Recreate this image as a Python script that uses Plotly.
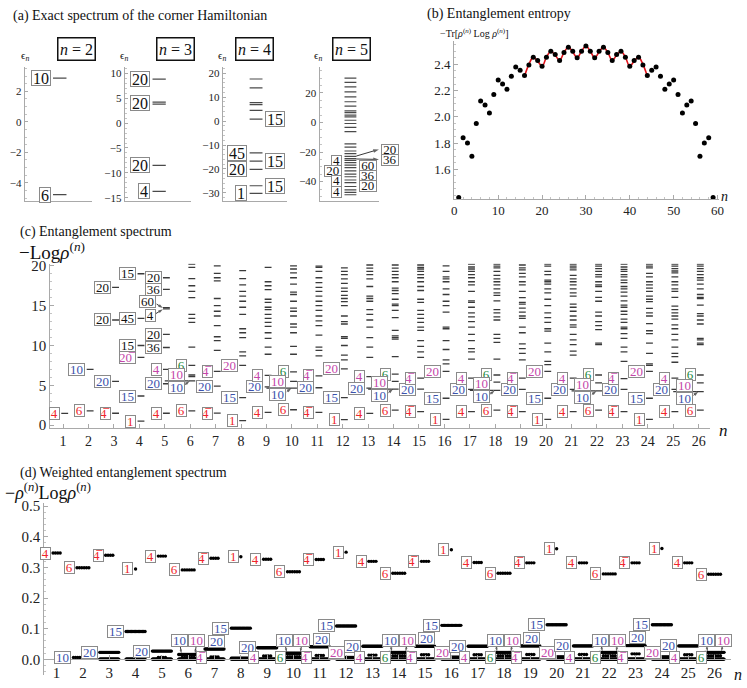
import plotly.graph_objects as go

W, H = 747, 688
SERIF = 'Liberation Serif, Tinos, Times New Roman, DejaVu Serif, serif'
OV = '\u0305'   # combining overline -> conjugate irrep
KIND_COLOR = {'r': '#f0262c', 'b': '#3c52ac', 'm': '#c447aa', 'g': '#22893d', 'k': '#111111'}

# ---------------- (a) exact spectrum of the corner Hamiltonian ----------------
a2_levels = [2.86, -4.77]
a3_levels = [8.8, 4.2, 3.8, -8.5, -13.7]
a4_levels = [17.6, 13.9, 7.7, 6.9, 4.5, 0.8, -13.3, -16.7, -20.2, -27.0, -30.2]
a5_levels = [30.0, 27.1, 24.0, 20.7, 17.3, 14.0, 11.1, 7.8, 6.7, 4.9, 3.8, 1.5, -0.7, -3.3,
             -6.2, -14.5, -16.7, -19.3, -21.1, -22.9, -24.5, -25.6, -27.1, -28.9, -30.5,
             -32.7, -34.9, -36.7, -38.9, -40.7, -43.3, -45.6, -47.3, -48.9]
a_tag_panel = [2, 2, 3, 3, 3, 3, 4, 4, 4, 4, 4, 4, 5, 5, 5, 5, 5, 5, 5]
a_tag_level = [2.86, -4.77, 8.8, 4.0, -8.5, -13.7, 0.8, -13.3, -16.7, -20.2, -27.0, -30.2,
               -25.8, -32.7, -39.3, -46.7, -29.3, -36.0, -43.3]
a_tag_text = ['10', '6', '20', '20', '20', '4', '15', '45', '15', '20', '15', '1',
              '4', '20', '4', '4', '60', '36', '20']
a_tag_side = ['L', 'L', 'L', 'L', 'L', 'L', 'R', 'L', 'R', 'L', 'R', 'L',
              'L', 'L', 'L', 'L', 'R', 'R', 'R']

# ---------------- (b) entanglement entropy ----------------
b_n = list(range(1, 60))
b_entropy = [1.385, 1.84, 1.80, 1.70, 1.95, 2.12, 2.09, 2.03, 2.17, 2.28, 2.25, 2.21, 2.31,
             2.38, 2.355, 2.315, 2.395, 2.455, 2.43, 2.385, 2.455, 2.50, 2.475, 2.43, 2.49,
             2.53, 2.50, 2.45, 2.50, 2.54, 2.50, 2.45, 2.50, 2.53, 2.49, 2.43, 2.475, 2.50,
             2.455, 2.385, 2.43, 2.455, 2.395, 2.315, 2.355, 2.38, 2.31, 2.21, 2.25, 2.28,
             2.17, 2.03, 2.09, 2.12, 1.95, 1.70, 1.80, 1.84, 1.385]
b_fit_n = list(range(16, 45))
b_fit = [2.31, 2.40, 2.455, 2.425, 2.385, 2.455, 2.50, 2.47, 2.43, 2.49, 2.53, 2.495, 2.45,
         2.50, 2.54, 2.50, 2.45, 2.495, 2.53, 2.49, 2.43, 2.47, 2.50, 2.455, 2.385, 2.425,
         2.455, 2.40, 2.31]
b_ticks = [1.6, 1.8, 2.0, 2.2, 2.4]

# ---------------- (c) entanglement spectrum, one list per n ----------------
c01 = [1.48]
c02 = [1.8, 7.0]
c03 = [1.5, 5.5, 13.2, 17.3]
c04 = [0.5, 3.66, 8.5, 10.0, 13.4, 19.0]
c05 = [1.5, 5.2, 7.0, 9.75, 11.4, 14.6, 14.75, 17.05, 18.5]
c06 = [1.8, 5.55, 6.1, 6.3, 7.5, 9.8, 12.9, 13.4, 13.9, 16.0, 16.8, 17.5, 18.4, 19.8, 20.2]
c07 = [1.52, 4.9, 6.75, 9.4, 10.6, 11.1, 12.5, 13.7, 14.3, 15.0, 15.9, 18.1, 18.5, 19.05, 20.0]
c08 = [0.57, 3.45, 7.5, 8.7, 9.2, 11.0, 11.6, 12.1, 13.9, 14.8, 15.55, 16.2, 16.8, 17.6, 18.4, 19.4]
c09 = [1.6, 4.8, 6.26, 8.9, 9.8, 10.9, 11.6, 12.4, 12.9, 13.4, 13.9, 14.5, 14.8, 15.4, 15.8,
       17.0, 17.5, 18.0, 19.8]
c10 = [1.94, 4.65, 5.5, 6.7, 8.9, 9.9, 11.6, 12.3, 12.7, 13.7, 14.3, 14.7, 15.55, 16.4, 16.7,
       17.7, 18.5, 19.1, 19.6, 20.0]
c11 = [1.6, 4.7, 6.2, 8.7, 9.4, 9.8, 11.3, 12.5, 13.1, 13.7, 14.4, 15.0, 15.55, 16.2, 16.8,
       17.3, 17.9, 18.5, 19.3, 19.8, 19.95]
c12 = [0.7, 3.45, 7.07, 8.2, 8.8, 10.0, 10.9, 11.1, 12.7, 13.0, 13.7, 15.0, 15.5, 15.9, 16.3,
       16.8, 17.2, 17.8, 18.35, 18.9, 19.3, 19.75]
c13 = [1.48, 4.65, 6.1, 8.5, 9.8, 11.0, 12.3, 13.2, 13.9, 14.5, 15.55, 15.9, 16.2, 17.4, 18.35,
       18.9, 19.3, 19.7, 20.1]
c14 = [1.9, 4.53, 5.5, 6.4, 8.6, 10.8, 11.0, 11.2, 11.9, 13.5, 14.4, 15.0, 15.2, 15.8, 16.5,
       16.9, 17.2, 18.0, 18.5, 18.9, 19.3, 19.7, 20.1]
c15 = [1.7, 4.53, 5.9, 8.5, 9.2, 9.9, 10.6, 11.9, 12.3, 12.9, 13.4, 13.9, 14.4, 15.4, 15.8,
       16.9, 17.4, 18.0, 18.5, 18.9, 19.3, 19.6, 19.8, 20.1]
c16 = [0.74, 3.38, 6.75, 7.7, 8.2, 9.5, 10.6, 12.1, 12.3, 14.2, 15.0, 15.55, 16.4, 17.1, 18.0,
       18.35, 18.6, 19.3, 20.0]
c17 = [1.7, 4.5, 5.9, 8.3, 9.2, 9.6, 10.6, 11.4, 12.3, 13.0, 13.6, 14.1, 14.8, 15.4, 15.6,
       16.8, 17.6, 18.0, 18.5, 18.9, 19.3, 19.6, 19.85, 20.2]
c18 = [1.9, 4.36, 5.4, 6.3, 8.3, 10.4, 10.9, 11.4, 13.2, 13.6, 14.1, 14.5, 15.6, 16.3, 16.6,
       17.1, 17.6, 18.0, 18.35, 18.8, 19.3, 19.75, 19.95, 20.2]
c19 = [1.7, 4.5, 5.9, 8.2, 9.0, 9.6, 10.2, 11.6, 12.3, 13.4, 13.7, 14.2, 14.7, 15.2, 15.4,
       16.0, 16.8, 17.6, 18.0, 18.6, 19.05, 19.5, 19.75, 20.1]
c20 = [0.74, 3.38, 6.75, 7.6, 8.0, 9.2, 10.3, 11.8, 12.1, 12.9, 13.5, 14.1, 15.0, 15.8, 16.6,
       17.1, 17.7, 18.0, 18.2, 18.9, 19.3, 19.95, 20.2]
c21 = [1.7, 4.5, 5.9, 8.8, 9.3, 10.1, 10.7, 11.4, 12.3, 12.6, 13.2, 13.7, 14.3, 14.8, 15.2,
       16.2, 16.6, 17.1, 17.6, 18.0, 18.35, 18.8, 19.5, 19.75, 19.95, 20.2]
c22 = [1.9, 4.3, 5.3, 6.3, 10.1, 10.3, 12.0, 12.5, 13.0, 13.7, 14.2, 15.55, 16.05, 16.8, 17.4,
       17.6, 18.0, 18.6, 18.9, 19.3, 19.65, 19.95, 20.2]
c23 = [1.7, 4.5, 5.85, 8.0, 9.2, 9.8, 10.9, 11.5, 12.1, 12.3, 12.9, 13.3, 13.9, 14.3, 14.8,
       15.06, 15.6, 16.2, 16.7, 17.1, 17.4, 17.9, 18.2, 18.6, 18.9, 19.3, 19.55, 19.85, 20.2]
c24 = [0.74, 3.38, 6.75, 7.5, 7.7, 9.0, 10.3, 11.5, 11.85, 12.75, 13.7, 14.1, 14.65, 15.5,
       15.8, 16.2, 16.8, 17.2, 17.6, 18.0, 18.6, 19.05, 19.75, 19.95, 20.2]
c25 = [1.7, 4.5, 5.9, 7.9, 8.6, 9.0, 9.8, 10.7, 11.4, 12.1, 12.6, 13.3, 13.7, 14.1, 14.5,
       14.95, 16.05, 16.8, 17.1, 17.6, 18.0, 18.6, 19.1, 19.35, 19.65, 19.95, 20.2]
c26 = [1.9, 4.2, 5.3, 6.3, 10.1, 10.3, 10.7, 10.9, 12.7, 13.2, 13.7, 14.0, 15.06, 15.9, 16.05,
       16.4, 17.1, 17.7, 18.2, 18.5, 18.9, 19.3, 19.65, 19.95, 20.2]

# labelled multiplets in (c)
c_tag_n = [1, 2, 2, 3, 3, 3, 3, 4, 4, 4, 4, 4, 4, 5, 5, 5, 5, 5, 5, 5,
           6, 6, 7, 7, 7, 8, 8, 8, 9, 9, 9, 10, 10, 11, 11, 11, 12, 12, 12, 13, 13, 13,
           14, 14, 15, 15, 15, 16, 16, 16, 17, 17, 17, 18, 18, 19, 19, 19, 20, 20, 20,
           21, 21, 21, 22, 22, 23, 23, 23, 24, 24, 24, 25, 25, 25, 26, 26]
c_tag_e = [1.48, 1.8, 7.0, 1.5, 5.5, 13.2, 17.3, 0.5, 3.66, 8.5, 10.0, 13.4, 19.0,
           1.5, 5.2, 7.0, 9.75, 11.4, 18.5, 17.05,
           1.8, 7.5, 1.52, 4.9, 6.75, 0.57, 3.45, 7.5, 1.6, 4.8, 6.26, 1.94, 6.7,
           1.6, 4.7, 6.2, 0.7, 3.45, 7.07, 1.48, 4.65, 6.1,
           1.9, 6.4, 1.7, 4.53, 5.9, 0.74, 3.38, 6.75, 1.7, 4.5, 5.9, 1.9, 6.3,
           1.7, 4.5, 5.9, 0.74, 3.38, 6.75, 1.7, 4.5, 5.9, 1.9, 6.3,
           1.7, 4.5, 5.85, 0.74, 3.38, 6.75, 1.7, 4.5, 5.9, 1.9, 6.3]
c_tag_text = ['4', '6', '10', '4' + OV, '20', '20', '20', '1', '15', '20' + OV, '15', '45', '15',
              '4', '20', '4', '36', '20', '20', '36',
              '6', '6', '4' + OV, '20', '4' + OV, '1', '15', '20', '4', '20', '4', '6', '6',
              '4' + OV, '20', '4' + OV, '1', '15', '20', '4', '20', '4',
              '6', '6', '4' + OV, '20', '4' + OV, '1', '15', '20', '4', '20', '4', '6', '6',
              '4' + OV, '20', '4' + OV, '1', '15', '20', '4', '20', '4', '6', '6',
              '4' + OV, '20', '4' + OV, '1', '15', '20', '4', '20', '4', '6', '6']
c_tag_kind = ['r', 'r', 'b', 'r', 'b', 'k', 'k', 'r', 'b', 'm', 'k', 'k', 'k',
              'r', 'b', 'm', 'k', 'k', 'k', 'k',
              'r', 'g', 'r', 'b', 'm', 'r', 'b', 'm', 'r', 'b', 'm', 'r', 'g',
              'r', 'b', 'm', 'r', 'b', 'm', 'r', 'b', 'm',
              'r', 'g', 'r', 'b', 'm', 'r', 'b', 'm', 'r', 'b', 'm', 'r', 'g',
              'r', 'b', 'm', 'r', 'b', 'm', 'r', 'b', 'm', 'r', 'g',
              'r', 'b', 'm', 'r', 'b', 'm', 'r', 'b', 'm', 'r', 'g']
c_pair_n = [6, 10, 14, 18, 22, 26]
c_pair_e = [5.55, 4.65, 4.53, 4.36, 4.3, 4.2]

# ---------------- (d) weighted entanglement spectrum ----------------
d_n = [1, 2, 2, 3, 3, 4, 4, 5, 5, 5, 6, 6, 6, 7, 7, 7, 8, 8, 8, 9, 9, 9, 10, 10, 10,
       11, 11, 11, 12, 12, 12, 13, 13, 13, 14, 14, 14, 15, 15, 15, 16, 16, 16,
       17, 17, 17, 18, 18, 18, 19, 19, 19, 20, 20, 20, 21, 21, 21, 22, 22, 22,
       23, 23, 23, 24, 24, 24, 25, 25, 25, 26, 26, 26]
d_w = [0.347, 0.299, 0.006, 0.340, 0.023, 0.295, 0.091, 0.337, 0.027, 0.006,
       0.292, 0.016, 0.006, 0.330, 0.034, 0.008, 0.335, 0.102, 0.004,
       0.327, 0.038, 0.011, 0.286, 0.020, 0.009, 0.326, 0.041, 0.013,
       0.350, 0.109, 0.006, 0.320, 0.043, 0.014, 0.281, 0.023, 0.012,
       0.320, 0.043, 0.015, 0.358, 0.111, 0.007, 0.316, 0.043, 0.015,
       0.281, 0.023, 0.012, 0.315, 0.044, 0.016, 0.361, 0.113, 0.008,
       0.315, 0.044, 0.016, 0.279, 0.023, 0.012, 0.315, 0.045, 0.018,
       0.362, 0.113, 0.008, 0.315, 0.044, 0.015, 0.278, 0.023, 0.012]
d_deg = [4, 6, 10, 4, 20, 1, 15, 4, 20, 4, 6, 20, 6, 4, 20, 4, 1, 15, 20,
         4, 20, 4, 6, 20, 6, 4, 20, 4, 1, 15, 20, 4, 20, 4, 6, 20, 6,
         4, 20, 4, 1, 15, 20, 4, 20, 4, 6, 20, 6, 4, 20, 4, 1, 15, 20,
         4, 20, 4, 6, 20, 6, 4, 20, 4, 1, 15, 20, 4, 20, 4, 6, 20, 6]
d_text = ['4', '6', '10', '4' + OV, '20', '1', '15', '4', '20', '', '6', 'pair', '',
          '4' + OV, '20', '4' + OV, '1', '15', '', '4', '20', '4', '6', 'pair', '6',
          '4' + OV, '20', '4' + OV, '1', '15', '20', '4', '20', '4', '6', 'pair', '6',
          '4' + OV, '20', '4' + OV, '1', '15', '20', '4', '20', '4', '6', 'pair', '6',
          '4' + OV, '20', '4' + OV, '1', '15', '20', '4', '20', '4', '6', 'pair', '6',
          '4' + OV, '20', '4' + OV, '1', '15', '20', '4', '20', '4', '6', 'pair', '6']
d_kind = ['r', 'r', 'b', 'r', 'b', 'r', 'b', 'r', 'b', '', 'r', 'b', '',
          'r', 'b', 'm', 'r', 'b', '', 'r', 'b', 'm', 'r', 'b', 'g',
          'r', 'b', 'm', 'r', 'b', 'm', 'r', 'b', 'm', 'r', 'b', 'g',
          'r', 'b', 'm', 'r', 'b', 'm', 'r', 'b', 'm', 'r', 'b', 'g',
          'r', 'b', 'm', 'r', 'b', 'm', 'r', 'b', 'm', 'r', 'b', 'g',
          'r', 'b', 'm', 'r', 'b', 'm', 'r', 'b', 'm', 'r', 'b', 'g']
d_rest_n = list(range(3, 27))
d_rest_w = [0.001] * 24


def px(x):
    return x / W


def py(y):
    return 1 - y / H


ann = []


def box(x, y, text, color, xref, yref, xanchor='right', yanchor='middle',
        size=13, h=11, cw=6.5, border='#8a8a8a', bw=1):
    nch = len(text.replace(OV, ''))
    ann.append(dict(x=x, y=y, xref=xref, yref=yref, text=text, showarrow=False,
                    xanchor=xanchor, yanchor=yanchor,
                    font=dict(family=SERIF, size=size, color=color),
                    bgcolor='white', bordercolor=border, borderwidth=bw, borderpad=0,
                    width=cw * nch + 2, height=h))


def text(x, y, s, size=14, xanchor='left', color='#111'):
    ann.append(dict(x=px(x), y=py(y), xref='paper', yref='paper', text=s, showarrow=False,
                    xanchor=xanchor, yanchor='middle',
                    font=dict(family=SERIF, size=size, color=color)))


def arrows(fig, segs, xa, ya, head=6):
    # little pointer arrows: a line with an arrow-head marker at its end
    xs, ys, sz = [], [], []
    for x0, y0, x1, y1 in segs:
        xs += [x0, x1, None]
        ys += [y0, y1, None]
        sz += [0, head, 0]
    fig.add_trace(go.Scatter(x=xs, y=ys, mode='lines+markers',
                             line=dict(color='#222', width=0.9),
                             marker=dict(symbol='arrow', size=sz, angleref='previous',
                                         color='#222', line=dict(width=0)),
                             xaxis=xa, yaxis=ya, cliponaxis=False, hoverinfo='skip',
                             showlegend=False))


fig = go.Figure()

# ---- panel (a) ----
for k, lev in enumerate([a2_levels, a3_levels, a4_levels, a5_levels], start=1):
    sfx = '' if k == 1 else str(k)
    xs, ys = [], []
    for e in lev:
        xs += [0.42, 0.62, None]
        ys += [e, e, None]
    fig.add_trace(go.Scatter(x=xs, y=ys, mode='lines', line=dict(color='#4a4a4a', width=1.2),
                             xaxis='x' + sfx, yaxis='y' + sfx, hoverinfo='skip', showlegend=False))
for p, e, t, s in zip(a_tag_panel, a_tag_level, a_tag_text, a_tag_side):
    k = p - 1
    sfx = '' if k == 1 else str(k)
    fs, hh, cw = (13, 9.5, 6.8) if p == 5 else (16, 14, 8)
    if s == 'L':
        box(0.385, e, t, '#111', 'x' + sfx, 'y' + sfx, xanchor='right', size=fs, h=hh, cw=cw)
    else:
        box(0.66, e, t, '#111', 'x' + sfx, 'y' + sfx, xanchor='left', size=fs, h=hh, cw=cw)
# the two n=5 multiplets that are labelled outside the frame
box(px(382), py(146.5), '20', '#111', 'paper', 'paper', xanchor='left', size=13, h=9.5, cw=6.8)
box(px(382), py(157), '36', '#111', 'paper', 'paper', xanchor='left', size=13, h=9.5, cw=6.8)
arrows(fig, [(0.62, -22.7, 1.0, -18.2), (0.62, -24.7, 1.0, -25.0)], 'x4', 'y4')
for cx, lab in [(55, '2'), (154.5, '3'), (254.5, '4'), (352.5, '5')]:
    ann.append(dict(x=px(cx), y=py(31), xref='paper', yref='paper',
                    text='<i>n</i> = ' + lab, showarrow=False,
                    font=dict(family=SERIF, size=16, color='#111'),
                    bordercolor='#111', borderwidth=1.5, borderpad=1, width=34, height=19))
for cx in [22, 122, 221, 318]:
    text(cx, 51, '\u03f5<sub><i>n</i></sub>', size=11, xanchor='center')

# ---- panel (b) ----
fig.add_trace(go.Scatter(x=b_fit_n, y=b_fit, mode='lines', line=dict(color='#e3141c', width=1.6,
                         shape='spline', smoothing=1.0), xaxis='x5', yaxis='y5',
                         hoverinfo='skip', showlegend=False))
fig.add_trace(go.Scatter(x=b_n, y=b_entropy, mode='markers', marker=dict(color='#000', size=5),
                         xaxis='x5', yaxis='y5', cliponaxis=False, hoverinfo='skip',
                         showlegend=False))

# ---- panel (c) ----
c_cols = [c01, c02, c03, c04, c05, c06, c07, c08, c09, c10, c11, c12, c13,
          c14, c15, c16, c17, c18, c19, c20, c21, c22, c23, c24, c25, c26]
xs, ys = [], []
for n, lev in enumerate(c_cols, start=1):
    for e in lev:
        xs += [n - 0.07, n + 0.2, None]
        ys += [e, e, None]
for n, e in zip(c_pair_n, c_pair_e):
    xs += [n - 1.0, n - 0.07, None]
    ys += [e, e, None]
fig.add_trace(go.Scatter(x=xs, y=ys, mode='lines', line=dict(color='#3a3a3a', width=1.3),
                         xaxis='x6', yaxis='y6', hoverinfo='skip', showlegend=False,
                         cliponaxis=True))
for n, e, t, k in zip(c_tag_n, c_tag_e, c_tag_text, c_tag_kind):
    box(n - 0.12, e, t, KIND_COLOR[k], 'x6', 'y6')
c_arrows = []
for n, e in zip(c_pair_n, c_pair_e):
    box(n - 0.22, e, '10', KIND_COLOR['m'], 'x6', 'y6', yanchor='bottom')
    box(n - 0.22, e, '10', KIND_COLOR['b'], 'x6', 'y6', yanchor='top')
    c_arrows.append((n - 0.2, e - 0.45, n - 0.02, e))
# n = 5 crowded pair near 14.6
box(4.67, 14.65, '60', KIND_COLOR['k'], 'x6', 'y6', yanchor='bottom')
box(4.64, 14.55, '4', KIND_COLOR['k'], 'x6', 'y6', yanchor='top')
c_arrows += [(4.68, 15.2, 4.93, 14.7), (4.65, 14.0, 4.93, 14.55)]
arrows(fig, c_arrows, 'x6', 'y6', head=5)


# ---- panel (d) ----
def span(deg):
    return min(0.09 * (deg - 1), 0.72)


xs, ys = [], []
for n, w, dg in zip(d_n, d_w, d_deg):
    s = span(dg)
    for j in range(dg):
        xs.append(n if dg == 1 else n - s / 2 + s * j / (dg - 1))
        ys.append(w)
for n, w in zip(d_rest_n, d_rest_w):
    for j in range(40):
        xs.append(n - 0.36 + 0.72 * j / 39)
        ys.append(w)
fig.add_trace(go.Scatter(x=xs, y=ys, mode='markers', marker=dict(color='#000', size=3.4),
                         xaxis='x7', yaxis='y7', hoverinfo='skip', showlegend=False,
                         cliponaxis=False))
d_arrows = []
for n, w, dg, t, k in zip(d_n, d_w, d_deg, d_text, d_kind):
    if not k:
        continue
    if t == 'pair':
        yb = max(w + 0.013, 0.042)
        box(n, yb, '10', KIND_COLOR['b'], 'x7', 'y7', xanchor='right', yanchor='bottom')
        box(n, yb, '10', KIND_COLOR['m'], 'x7', 'y7', xanchor='left', yanchor='bottom')
        d_arrows += [(n - 0.3, yb, n - 0.26, w + 0.003), (n + 0.3, yb, n + 0.26, w + 0.003)]
    elif k == 'b' and n % 4 == 3 and n > 3:
        box(n - 0.26, w + 0.004, t, KIND_COLOR[k], 'x7', 'y7', xanchor='left', yanchor='bottom')
    elif k == 'm' and t == '20':
        box(n - 0.03, w + 0.016, t, KIND_COLOR[k], 'x7', 'y7')
    elif k in ('m', 'g'):
        box(n - 0.3, 0.005, t, KIND_COLOR[k], 'x7', 'y7')
    else:
        box(n - span(dg) / 2 - 0.08, w, t, KIND_COLOR[k], 'x7', 'y7')
arrows(fig, d_arrows, 'x7', 'y7', head=4)

# ---- titles and axis labels ----
text(8, 10, '(a) Exact spectrum of the corner Hamiltonian', size=14)
text(427, 8, '(b) Entanglement entropy', size=14)
text(440, 27, '\u2212Tr[<i>\u03c1</i><sup>(<i>n</i>)</sup> Log <i>\u03c1</i><sup>(<i>n</i>)</sup>]', size=10)
text(724, 194, '<i>n</i>', size=14)
text(15, 230, '(c) Entanglement spectrum', size=14)
text(14, 249, '\u2212Log<i>\u03c1</i><sup>(<i>n</i>)</sup>', size=19)
text(722, 431, '<i>n</i>', size=17)
text(15, 475, '(d) Weighted entanglement spectrum', size=14)
text(0, 493, '\u2212<i>\u03c1</i><sup>(<i>n</i>)</sup>Log<i>\u03c1</i><sup>(<i>n</i>)</sup>', size=18)
text(737, 679, '<i>n</i>', size=16)


def axis(**kw):
    d = dict(showline=True, linecolor='#a9a9a9', linewidth=1, showgrid=False, zeroline=False,
             ticks='inside', ticklen=4, tickcolor='#a9a9a9', tickwidth=1,
             tickfont=dict(family=SERIF, size=12, color='#222'))
    d.update(kw)
    return d


a_dom_x = [(22, 90), (123, 190), (222, 287), (320, 380)]
a_rng = [(-5.18, 3.59, 2, 0.5), (-15.6, 11.25, 5, 1), (-33.3, 22.6, 10, 2), (-53, 37.5, 20, 5)]
layout = {}
for i, ((x0, x1), (r0, r1, dt, mdt)) in enumerate(zip(a_dom_x, a_rng), start=1):
    sfx = '' if i == 1 else str(i)
    layout['xaxis' + sfx] = axis(domain=[px(x0), px(x1)], range=[0, 1], ticks='',
                                 showticklabels=False, anchor='y' + sfx)
    layout['yaxis' + sfx] = axis(domain=[py(198), py(62)], range=[r0, r1], dtick=dt,
                                 tick0=0, anchor='x' + sfx, ticklen=3,
                                 tickfont=dict(family=SERIF, size=11, color='#222'),
                                 minor=dict(ticks='inside', ticklen=2, dtick=mdt,
                                            tickcolor='#c4c4c4'))
layout['xaxis5'] = axis(domain=[px(456), px(724)], range=[-0.05, 60.4], dtick=10, anchor='y5',
                        tickfont=dict(family=SERIF, size=13, color='#222'),
                        minor=dict(ticks='inside', ticklen=2, dtick=2, tickcolor='#c4c4c4'))
layout['yaxis5'] = axis(domain=[py(195.7), py(36)], range=[1.377, 2.575],
                        tickmode='array', tickvals=b_ticks, tickformat='.1f', anchor='x5',
                        tickfont=dict(family=SERIF, size=13, color='#222'),
                        minor=dict(ticks='inside', ticklen=2, dtick=0.05, tick0=1.6,
                                   tickcolor='#c4c4c4'))
layout['xaxis6'] = axis(domain=[px(47.7), px(715)], range=[0.494, 26.46], dtick=1, tick0=1,
                        anchor='y6', tickfont=dict(family=SERIF, size=14, color='#222'))
layout['yaxis6'] = axis(domain=[py(429.3), py(262)], range=[-0.407, 20.25], dtick=5, tick0=0,
                        anchor='x6', tickfont=dict(family=SERIF, size=15, color='#222'),
                        minor=dict(ticks='inside', ticklen=2, dtick=1, tickcolor='#c4c4c4'))
layout['xaxis7'] = axis(domain=[px(41.7), px(736)], range=[0.53, 26.63], dtick=1, tick0=1,
                        anchor='free', position=py(664),
                        tickfont=dict(family=SERIF, size=15, color='#222'))
layout['yaxis7'] = axis(domain=[py(680), py(505)], range=[-0.0514, 0.5106], dtick=0.1, tick0=0,
                        tickformat='.1f', anchor='x7',
                        tickfont=dict(family=SERIF, size=15, color='#222'),
                        minor=dict(ticks='inside', ticklen=2, dtick=0.02, tickcolor='#c4c4c4'))

fig.update_layout(width=W, height=H, margin=dict(l=0, r=0, t=0, b=0),
                  paper_bgcolor='white', plot_bgcolor='white', showlegend=False,
                  annotations=ann, **layout)

# the page's default body margin would push the figure 8 px down and right
fig.write_html("out.html", config={'displayModeBar': False},
               post_script="document.body.style.margin = '0px';")
